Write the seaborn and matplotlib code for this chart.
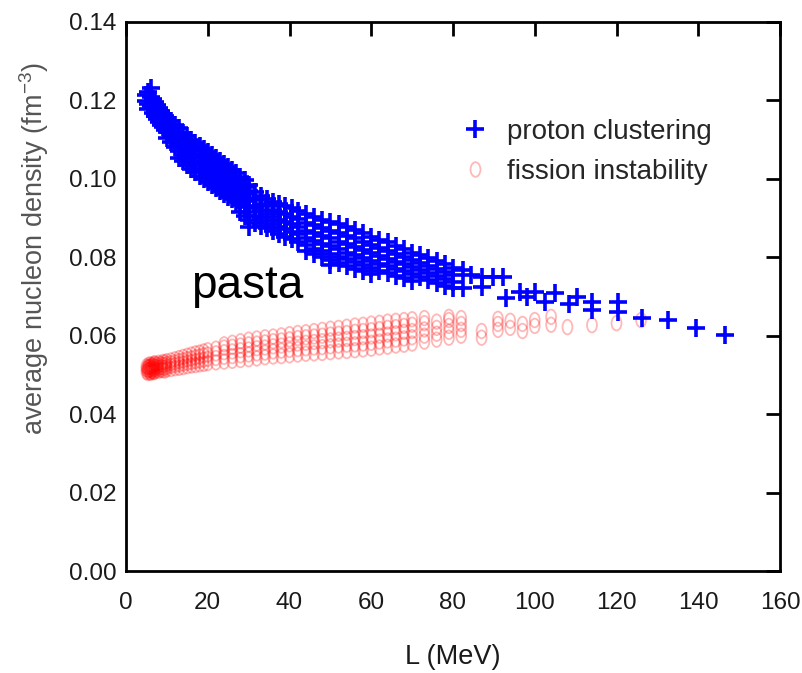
import matplotlib
matplotlib.use("Agg")
import matplotlib.pyplot as plt
import seaborn as sns
import pandas as pd
from matplotlib.path import Path
from matplotlib.transforms import Affine2D
from matplotlib.lines import Line2D

# ---------------- data ----------------
proton_L = [5.0, 5.5, 6.0, 6.5, 7.0, 7.5, 8.0, 8.5, 9.0, 9.5,
            10.0, 11.0, 12.0, 13.0, 14.0, 15.0, 16.0, 17.0, 18.0, 19.0,
            20.0, 21.0, 22.0, 23.0, 24.0, 25.0, 26.0, 27.0, 28.0, 29.0,
            30.0, 31.5, 33.0, 34.5, 36.0, 37.5, 39.0, 40.5, 42.0, 44.0,
            46.0, 48.0, 50.0, 52.0, 54.0, 56.0, 58.0, 60.0, 62.0, 64.0,
            66.0, 68.0, 70.0, 72.0, 74.0, 76.0, 78.0, 80.0, 82.5, 84.5,
            87.0, 89.8, 92.2, 93.0, 96.4, 98.0, 100.0, 102.5, 105.0, 108.4,
            110.3, 114.0, 120.4, 126.2, 132.6, 139.5, 146.5]
proton_rho = [
    [0.1215, 0.1198], [0.1222, 0.1190, 0.1178], [0.1232, 0.1208, 0.1186],
    [0.1203, 0.1182, 0.1168], [0.1196, 0.1178, 0.1160], [0.1188, 0.1170, 0.1152],
    [0.1180, 0.1160, 0.1145], [0.1174, 0.1156, 0.1138], [0.1166, 0.1148, 0.1132],
    [0.1160, 0.1143, 0.1125],
    [0.1155, 0.1137, 0.1120, 0.1104], [0.1147, 0.1128, 0.1110, 0.1094],
    [0.1138, 0.1120, 0.1100, 0.1082],
    [0.1130, 0.1108, 0.1090, 0.1070, 0.1053], [0.1118, 0.1100, 0.1080, 0.1062, 0.1045],
    [0.1110, 0.1090, 0.1072, 0.1052, 0.1036], [0.1100, 0.1082, 0.1062, 0.1043, 0.1026],
    [0.1092, 0.1072, 0.1053, 0.1035, 0.1018], [0.1083, 0.1063, 0.1045, 0.1026, 0.1008],
    [0.1076, 0.1055, 0.1036, 0.1018, 0.0999], [0.1068, 0.1048, 0.1030, 0.1010, 0.0992],
    [0.1060, 0.1040, 0.1021, 0.1002, 0.0985], [0.1053, 0.1032, 0.1013, 0.0995, 0.0977],
    [0.1046, 0.1025, 0.1005, 0.0987, 0.0970], [0.1038, 0.1018, 0.0998, 0.0980, 0.0962],
    [0.1030, 0.1010, 0.0991, 0.0972, 0.0955], [0.1022, 0.1003, 0.0984, 0.0965, 0.0948],
    [0.1015, 0.0995, 0.0977, 0.0958, 0.0941],
    [0.1006, 0.0988, 0.0970, 0.0951, 0.0934, 0.0915],
    [0.0998, 0.0980, 0.0962, 0.0944, 0.0927, 0.0905],
    [0.0985, 0.0968, 0.0950, 0.0932, 0.0915, 0.0895, 0.0878],
    [0.0966, 0.0946, 0.0926, 0.0906, 0.0888], [0.0956, 0.0936, 0.0918, 0.0899, 0.0880],
    [0.0948, 0.0930, 0.0910, 0.0892, 0.0874], [0.0941, 0.0921, 0.0902, 0.0885, 0.0868],
    [0.0935, 0.0915, 0.0896, 0.0878, 0.0860], [0.0930, 0.0910, 0.0889, 0.0871, 0.0852],
    [0.0925, 0.0904, 0.0884, 0.0865, 0.0846], [0.0918, 0.0898, 0.0878, 0.0860, 0.0840],
    [0.0910, 0.0888, 0.0868, 0.0850, 0.0832, 0.0815],
    [0.0903, 0.0882, 0.0862, 0.0842, 0.0822, 0.0808],
    [0.0896, 0.0875, 0.0855, 0.0835, 0.0815, 0.0800],
    [0.0890, 0.0868, 0.0848, 0.0828, 0.0808, 0.0792, 0.0780],
    [0.0885, 0.0862, 0.0840, 0.0820, 0.0800, 0.0785],
    [0.0878, 0.0855, 0.0833, 0.0812, 0.0795, 0.0778],
    [0.0870, 0.0848, 0.0826, 0.0805, 0.0788, 0.0770],
    [0.0862, 0.0840, 0.0818, 0.0798, 0.0780, 0.0765],
    [0.0852, 0.0832, 0.0810, 0.0790, 0.0773, 0.0758],
    [0.0845, 0.0824, 0.0803, 0.0784, 0.0766], [0.0838, 0.0816, 0.0796, 0.0778, 0.0760],
    [0.0830, 0.0808, 0.0788, 0.0770, 0.0752], [0.0822, 0.0800, 0.0782, 0.0764, 0.0746],
    [0.0812, 0.0794, 0.0776, 0.0758, 0.0740], [0.0805, 0.0786, 0.0768, 0.0750],
    [0.0798, 0.0778, 0.0760, 0.0742], [0.0790, 0.0770, 0.0752, 0.0735],
    [0.0782, 0.0762, 0.0745, 0.0728], [0.0772, 0.0755, 0.0738, 0.0722],
    [0.0768, 0.0722], [0.0755], [0.0750, 0.0724], [0.0750], [0.0750], [0.0696],
    [0.0712], [0.0699], [0.0712], [0.0686], [0.0710], [0.0680], [0.0700],
    [0.0686, 0.0666], [0.0686, 0.0660], [0.0645], [0.0640], [0.0620], [0.0602]]

fission_L = [5.0, 5.3, 5.5, 5.8, 6.0, 6.3, 6.5, 6.8, 7.0, 7.5, 8.0, 8.5, 9.0, 9.5, 10.0,
             11.0, 12.0, 13.0, 14.0, 15.0, 16.0, 17.0, 18.0, 19.0, 20.0,
             22.0, 24.0, 26.0, 28.0, 30.0, 32.0, 34.0, 36.0, 38.0, 40.0,
             42.0, 44.0, 46.0, 48.0, 50.0, 52.0, 54.0, 56.0, 58.0, 60.0,
             62.0, 64.0, 66.0, 68.0, 70.0, 73.0, 76.0, 79.0, 82.0, 87.0,
             91.0, 94.0, 97.0, 100.0, 104.0, 108.0, 114.0, 120.0, 126.0]
fission_rho = [
    [0.0508, 0.0515, 0.0522], [0.0505, 0.0512, 0.0519], [0.0512, 0.0520, 0.0526],
    [0.0507, 0.0514, 0.0521], [0.0505, 0.0513, 0.0520, 0.0527], [0.0509, 0.0516, 0.0523],
    [0.0510, 0.0518, 0.0525], [0.0507, 0.0514, 0.0521, 0.0528],
    [0.0508, 0.0515, 0.0522, 0.0530], [0.0512, 0.0520, 0.0527],
    [0.0510, 0.0517, 0.0524, 0.0531], [0.0513, 0.0520, 0.0528], [0.0512, 0.0519, 0.0526, 0.0533],
    [0.0511, 0.0518, 0.0525, 0.0532],
    [0.0514, 0.0521, 0.0528, 0.0535], [0.0515, 0.0523, 0.0530, 0.0537],
    [0.0517, 0.0525, 0.0532, 0.0540], [0.0518, 0.0527, 0.0535, 0.0543],
    [0.0520, 0.0529, 0.0537, 0.0546], [0.0522, 0.0531, 0.0540, 0.0549],
    [0.0524, 0.0533, 0.0542, 0.0552], [0.0525, 0.0535, 0.0545, 0.0555],
    [0.0527, 0.0537, 0.0547, 0.0557], [0.0528, 0.0539, 0.0550, 0.0560],
    [0.0530, 0.0541, 0.0552, 0.0563], [0.0532, 0.0543, 0.0555, 0.0567],
    [0.0534, 0.0546, 0.0558, 0.0570, 0.0578], [0.0536, 0.0548, 0.0560, 0.0572, 0.0582],
    [0.0538, 0.0550, 0.0563, 0.0575, 0.0586], [0.0540, 0.0552, 0.0565, 0.0578, 0.0590],
    [0.0542, 0.0555, 0.0568, 0.0580, 0.0593], [0.0545, 0.0557, 0.0570, 0.0583, 0.0596],
    [0.0547, 0.0560, 0.0573, 0.0586, 0.0598], [0.0548, 0.0562, 0.0575, 0.0588, 0.0601],
    [0.0550, 0.0564, 0.0578, 0.0591, 0.0604], [0.0552, 0.0566, 0.0580, 0.0594, 0.0607],
    [0.0554, 0.0568, 0.0582, 0.0596, 0.0609], [0.0555, 0.0570, 0.0584, 0.0598, 0.0612],
    [0.0556, 0.0571, 0.0586, 0.0600, 0.0615], [0.0558, 0.0573, 0.0588, 0.0603, 0.0618],
    [0.0560, 0.0575, 0.0590, 0.0605, 0.0620], [0.0561, 0.0577, 0.0592, 0.0607, 0.0623],
    [0.0563, 0.0578, 0.0594, 0.0610, 0.0626], [0.0565, 0.0580, 0.0596, 0.0612, 0.0628],
    [0.0567, 0.0582, 0.0598, 0.0614, 0.0631], [0.0570, 0.0585, 0.0600, 0.0617, 0.0633],
    [0.0572, 0.0588, 0.0603, 0.0620, 0.0636], [0.0575, 0.0590, 0.0606, 0.0622, 0.0638],
    [0.0577, 0.0593, 0.0610, 0.0625, 0.0640], [0.0580, 0.0596, 0.0612, 0.0628, 0.0642],
    [0.0585, 0.0600, 0.0616, 0.0632, 0.0645], [0.0590, 0.0605, 0.0620, 0.0636],
    [0.0595, 0.0610, 0.0625, 0.0640, 0.0648], [0.0600, 0.0615, 0.0630, 0.0645],
    [0.0595, 0.0612], [0.0615, 0.0630, 0.0643], [0.0620, 0.0638], [0.0612, 0.0630],
    [0.0625, 0.0640], [0.0628, 0.0648], [0.0622], [0.0627], [0.0632], [0.0640]]

series_labels = ["proton clustering", "fission instability"]
x_ticks = [0, 20, 40, 60, 80, 100, 120, 140, 160]
y_ticks = [0.00, 0.02, 0.04, 0.06, 0.08, 0.10, 0.12, 0.14]
y_tick_labels = ["0.00", "0.02", "0.04", "0.06", "0.08", "0.10", "0.12", "0.14"]
x_label = "L (MeV)"
y_label = "average nucleon density (fm$^{-3}$)"
annotation_text = "pasta"

# ---------------- build tidy tables ----------------
rows = []
for L, vals in zip(proton_L, proton_rho):
    for v in vals:
        rows.append((L, v, series_labels[0]))
df_p = pd.DataFrame(rows, columns=["L", "rho", "series"])
rows = []
for L, vals in zip(fission_L, fission_rho):
    for v in vals:
        rows.append((L, v, series_labels[1]))
df_f = pd.DataFrame(rows, columns=["L", "rho", "series"])

# ---------------- style ----------------
sns.set_style("white")
plt.rcParams["font.family"] = ["Liberation Sans", "DejaVu Sans"]
plt.rcParams["mathtext.fontset"] = "custom"
plt.rcParams["mathtext.rm"] = "Liberation Sans"
plt.rcParams["mathtext.it"] = "Liberation Sans"

fig = plt.figure(figsize=(8.02, 6.73), dpi=100)
ax = fig.add_axes([126 / 802, 1 - 571 / 673, 654 / 802, 549 / 673])

ellipse = Affine2D().scale(0.68, 1.0).transform_path(Path.unit_circle())

sns.scatterplot(data=df_f, x="L", y="rho", ax=ax, marker=ellipse, s=110,
                facecolor="none", edgecolor=(1, 0, 0, 0.28), linewidth=1.3,
                legend=False, zorder=2)
sns.scatterplot(data=df_p, x="L", y="rho", ax=ax, marker="+", s=175,
                color="#0000ff", linewidth=2.6, legend=False, zorder=3)

ax.set_xlim(0, 160)
ax.set_ylim(0, 0.14)
ax.set_xticks(x_ticks)
ax.set_yticks(y_ticks)
ax.set_yticklabels(y_tick_labels)

for sp in ax.spines.values():
    sp.set_visible(True)
    sp.set_linewidth(2.0)
    sp.set_color("black")

ax.tick_params(axis="both", which="both", direction="in", length=10, width=2.0,
               colors="black", top=True, right=True, labelsize=17.5)
ax.tick_params(axis="x", pad=15)
ax.tick_params(axis="y", pad=7)
for lab in ax.get_xticklabels() + ax.get_yticklabels():
    lab.set_color("#1a1a1a")

ax.set_xlabel(x_label, fontsize=19.5, color="#1a1a1a")
ax.xaxis.set_label_coords(0.5, -0.133)
ax.set_ylabel(y_label, fontsize=19.5, color="#555555")
ax.yaxis.set_label_coords(-0.115, 0.588)

ax.text(16.0, 0.0696, annotation_text, fontsize=33, color="black",
        ha="left", va="baseline")

handles = [
    Line2D([], [], linestyle="none", marker="+", markersize=13,
           markeredgewidth=2.6, color="#0000ff"),
    Line2D([], [], linestyle="none", marker=ellipse, markersize=10.5,
           markerfacecolor="none", markeredgecolor=(1, 0, 0, 0.28),
           markeredgewidth=1.3),
]
ax.legend(handles, series_labels, loc="upper left",
          bbox_to_anchor=((461 - 126) / 654, (571 - 119) / 549),
          frameon=False, fontsize=20, handlelength=1.0, handletextpad=0.65,
          labelspacing=0.5, borderpad=0, borderaxespad=0)

fig.savefig("out.png", dpi=100)
